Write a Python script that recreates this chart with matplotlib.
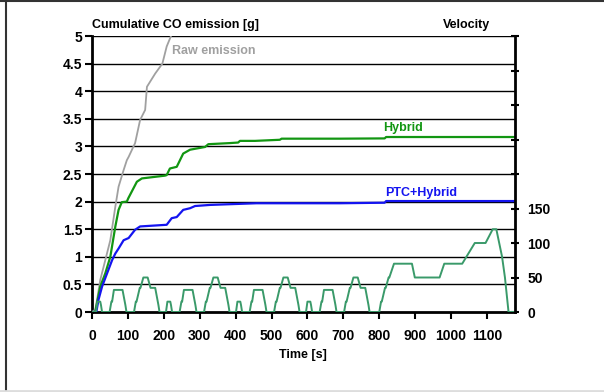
import matplotlib
matplotlib.use('Agg')
import matplotlib.pyplot as plt
from matplotlib.lines import Line2D

plt.rcParams['font.family'] = ['Liberation Sans', 'DejaVu Sans']
plt.rcParams['font.weight'] = 'bold'

# cumulative CO emission [g]
raw_t = [0, 9, 14, 23, 37, 51, 65, 74, 88, 97, 102, 120, 134, 148, 153, 176, 196, 208, 220]
raw_v = [0, 0.04, 0.22, 0.58, 0.94, 1.30, 1.91, 2.27, 2.57, 2.75, 2.81, 3.06, 3.48, 3.66, 4.08, 4.32, 4.50, 4.81, 5.0]

hyb_t = [0, 9, 23, 37, 51, 65, 74, 83, 97, 101, 125, 139, 203, 208, 217, 236, 254, 273, 315,
         324, 384, 407, 412, 454, 523, 528, 690, 815, 819, 1178]
hyb_v = [0, 0, 0.46, 0.70, 1.00, 1.55, 1.85, 1.99, 2.00, 2.06, 2.36, 2.42, 2.47, 2.48, 2.60, 2.63, 2.87, 2.94, 2.99,
         3.04, 3.06, 3.07, 3.10, 3.10, 3.12, 3.14, 3.14, 3.145, 3.17, 3.17]

ptc_t = [0, 12, 18, 28, 42, 56, 65, 74, 88, 102, 120, 134, 208, 222, 236, 254, 273, 287, 329, 458,
         690, 815, 819, 1178]
ptc_v = [0, 0, 0.22, 0.46, 0.70, 0.94, 1.06, 1.15, 1.30, 1.34, 1.49, 1.55, 1.58, 1.70, 1.72, 1.85, 1.88, 1.92, 1.94, 1.97,
         1.97, 1.98, 2.01, 2.01]

# velocity [km/h]
vel_t = [0, 11, 15, 23, 25, 28, 49, 54, 56, 61, 85, 93, 96, 117, 122, 124, 133, 135, 143, 155, 163, 176, 185, 188,
         206, 210, 218, 220, 223, 244, 249, 251, 256, 280, 288, 291, 312, 317, 319, 328, 330, 338, 350, 358, 371, 380, 383,
         401, 405, 413, 415, 418, 439, 444, 446, 451, 475, 483, 486, 507, 512, 514, 523, 525, 533, 545, 553, 566, 575, 578,
         596, 600, 608, 610, 613, 634, 639, 641, 646, 670, 678, 681, 702, 707, 709, 718, 720, 728, 740, 748, 761, 770, 773,
         800, 805, 807, 816, 818, 826, 828, 841, 891, 899, 968, 981, 1031, 1066, 1096, 1116, 1126, 1142, 1150, 1160, 1180]
vel_v = [0, 0, 15, 15, 10, 0, 0, 15, 15, 32, 32, 10, 0, 0, 15, 15, 35, 35, 50, 50, 35, 35, 10, 0,
         0, 15, 15, 10, 0, 0, 15, 15, 32, 32, 10, 0, 0, 15, 15, 35, 35, 50, 50, 35, 35, 10, 0,
         0, 15, 15, 10, 0, 0, 15, 15, 32, 32, 10, 0, 0, 15, 15, 35, 35, 50, 50, 35, 35, 10, 0,
         0, 15, 15, 10, 0, 0, 15, 15, 32, 32, 10, 0, 0, 15, 15, 35, 35, 50, 50, 35, 35, 10, 0,
         0, 15, 15, 35, 35, 50, 50, 70, 70, 50, 50, 70, 70, 100, 100, 120, 120, 80, 50, 0, 0]

left_ticks = [0, 0.5, 1, 1.5, 2, 2.5, 3, 3.5, 4, 4.5, 5]
left_labels = ['0', '0.5', '1', '1.5', '2', '2.5', '3', '3.5', '4', '4.5', '5']
x_ticks = [0, 100, 200, 300, 400, 500, 600, 700, 800, 900, 1000, 1100]
right_ticks = [0, 50, 100, 150, 200, 250, 300, 350, 400]
right_labels = ['0', '50', '100', '150', '', '', '', '', '']

fig = plt.figure(figsize=(6.04, 3.92), dpi=100)
ax = fig.add_axes([92 / 604, 80 / 392, 423 / 604, 276 / 392])

for y in left_ticks[1:]:
    ax.axhline(y, color='black', lw=1.0, zorder=1)

ax.plot(raw_t, raw_v, color='#a0a0a0', lw=1.3, zorder=3)
ax.plot(hyb_t, hyb_v, color='#129612', lw=1.6, zorder=3)
ax.plot(ptc_t, ptc_v, color='#1414f0', lw=1.6, zorder=3)

ax.set_xlim(0, 1178)
ax.set_ylim(0, 5)
ax.set_xticks(x_ticks)
ax.set_yticks(left_ticks)
ax.set_yticklabels(left_labels)
ax.tick_params(axis='both', labelsize=10, width=1.5, length=5, direction='out', pad=2)
ax.tick_params(axis='x', pad=7)
for s in ['top', 'right']:
    ax.spines[s].set_visible(False)
for s in ['left', 'bottom']:
    ax.spines[s].set_linewidth(2)

ax2 = ax.twinx()
ax2.plot(vel_t, vel_v, color='#3a9a6a', lw=1.4, zorder=2)
ax2.set_ylim(0, 400)
ax2.set_yticks(right_ticks)
ax2.set_yticklabels(right_labels)
ax2.tick_params(axis='y', labelsize=10, width=1.5, length=6, direction='inout', pad=6)
for s in ['top', 'left', 'bottom']:
    ax2.spines[s].set_visible(False)
ax2.spines['right'].set_linewidth(2)

fig.text(92 / 604, 1 - 25 / 392, 'Cumulative CO emission [g]', fontsize=9, fontweight='bold', ha='left', va='center')
fig.text(467 / 604, 1 - 25 / 392, 'Velocity', fontsize=9, fontweight='bold', ha='center', va='center')
fig.text(303 / 604, 1 - 355 / 392, 'Time [s]', fontsize=9, fontweight='bold', ha='center', va='center')
fig.text(172 / 604, 1 - 51 / 392, 'Raw emission', fontsize=9, fontweight='bold', color='#a0a0a0', ha='left', va='center')
fig.text(383 / 604, 1 - 128 / 392, 'Hybrid', fontsize=9, fontweight='bold', color='#129612', ha='left', va='center')
fig.text(385 / 604, 1 - 193 / 392, 'PTC+Hybrid', fontsize=9, fontweight='bold', color='#1414f0', ha='left', va='center')

# outer frame
fig.add_artist(Line2D([0, 1], [1 - 1 / 392, 1 - 1 / 392], color='#333333', lw=1.5))
fig.add_artist(Line2D([6 / 604, 6 / 604], [1 - 1 / 392, 2 / 392], color='#333333', lw=1.5))
fig.add_artist(Line2D([0, 1], [1.5 / 392, 1.5 / 392], color='#dddddd', lw=2))

fig.savefig('out.png', dpi=100)
